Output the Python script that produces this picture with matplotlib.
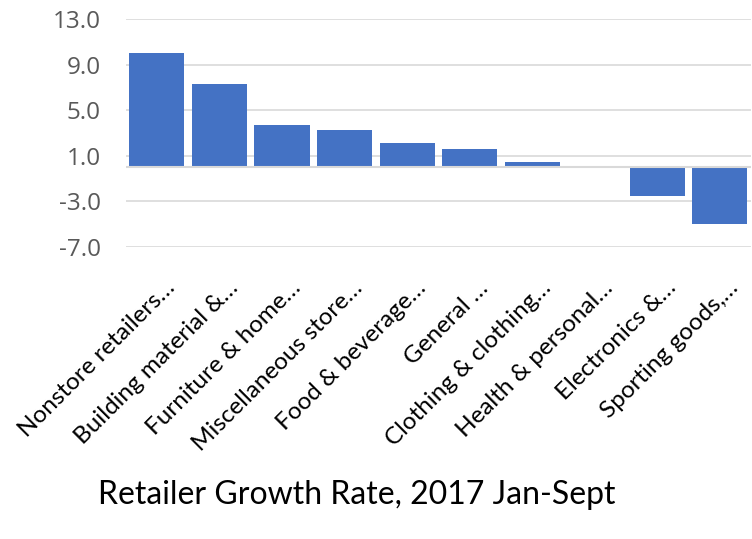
import matplotlib
matplotlib.use("Agg")
import matplotlib.pyplot as plt
from matplotlib.transforms import ScaledTranslation

# --- Data ---
categories = [
    "Nonstore retailers…",
    "Building material &…",
    "Furniture & home…",
    "Miscellaneous store…",
    "Food & beverage…",
    "General …",
    "Clothing & clothing…",
    "Health & personal…",
    "Electronics &…",
    "Sporting goods,…",
]
growth = [10.0, 7.3, 3.7, 3.3, 2.1, 1.6, 0.5, 0.0, -2.5, -5.0]
yticks = [-7.0, -3.0, 1.0, 5.0, 9.0, 13.0]

# --- Figure ---
fig = plt.figure(figsize=(7.52, 5.39), dpi=100)
ax = fig.add_axes([0.167, 0.5417, 0.832, 0.4230])

x = list(range(len(categories)))
ax.bar(x, growth, width=0.88, color="#4472C4", zorder=2)
ax.axhline(0, color="#d9d9d9", linewidth=1.5, zorder=3)

ax.set_xlim(-0.5, len(categories) - 0.5)
ax.set_ylim(-7, 13)
ax.set_yticks(yticks)
ax.set_yticklabels([f"{v:.1f}" for v in yticks], fontfamily="Open Sans",
                   fontsize=17.5, color="#595959")
ax.yaxis.grid(True, color="#d9d9d9", linewidth=1.2, zorder=0)
ax.set_axisbelow(True)
ax.tick_params(axis="y", length=0, pad=18)
ax.tick_params(axis="x", length=0, pad=27)
for s in ax.spines.values():
    s.set_visible(False)

ax.set_xticks(x)
labels = ax.set_xticklabels(categories, rotation=45, ha="right", va="center",
                            rotation_mode="anchor", fontfamily="Lato",
                            fontsize=17.5, color="black")
offset = ScaledTranslation(15 / 100, 0, fig.dpi_scale_trans)
for lab in labels:
    lab.set_transform(lab.get_transform() + offset)

fig.text(0.475, 0.0816, "Retailer Growth Rate, 2017 Jan-Sept", ha="center",
         va="center", fontfamily="Lato", fontsize=23, color="black")

fig.savefig("out.png", dpi=100)
